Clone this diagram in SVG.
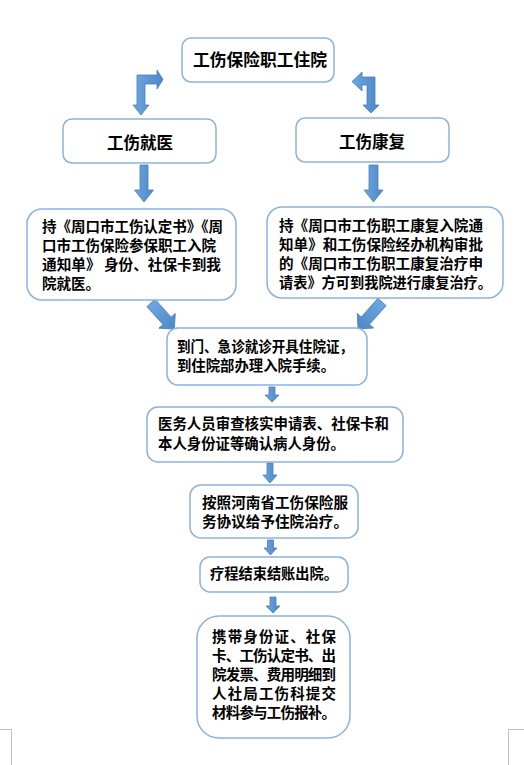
<svg xmlns="http://www.w3.org/2000/svg" width="524" height="765" viewBox="0 0 524 765">
<defs>
<linearGradient id="ag" x1="0" y1="0" x2="1" y2="0">
<stop offset="0" stop-color="#6FA6DD"/>
<stop offset="1" stop-color="#4C88C8"/>
</linearGradient>
<style>
.box{fill:#fff;stroke:#8AB2E0;stroke-width:1.5}
.arr{fill:url(#ag);stroke:#4A7EBB;stroke-width:0.8;stroke-linejoin:miter}
.t{font-family:"Noto Sans CJK SC","Noto Sans",sans-serif;font-weight:700;fill:#000}
.big{font-size:16.5px}
.sm{font-size:14.5px}
.mark{fill:none;stroke:#BFBFBF;stroke-width:1}
</style>
</defs>
<rect width="524" height="765" fill="#fff"/>

<g id="connectors">
<polygon class="arr" points="137,75 157,75 157,70 163,79.5 157,89 157,84 145,84 145,105 149,105 141,115 133,105 137,105"/>
<polygon class="arr" points="375,77 362,77 362,72 352,81.5 362,91 362,85 367,85 367,105 363,105 371,113 379,105 375,105"/>
<path class="arr" transform="translate(144,165)" d="M-4,0 H4 V25 H9.5 L0,37 L-9.5,25 H-4 Z"/>
<path class="arr" transform="translate(373.5,165)" d="M-4.5,0 H4.5 V25 H9.5 L0,37 L-9.5,25 H-4.5 Z"/>
<path class="arr" transform="translate(151,303) rotate(48)" d="M0,-5.5 H24 V-11 L35,0 L24,11 V5.5 H0 Z"/>
<path class="arr" transform="translate(382,302) rotate(131.6)" d="M0,-5.5 H25 V-11 L36,0 L25,11 V5.5 H0 Z"/>
<path class="arr" transform="translate(272,387)" d="M-3,0 H3 V8 H7 L0,15 L-7,8 H-3 Z"/>
<path class="arr" transform="translate(270,463)" d="M-3,0 H3 V12 H7 L0,20 L-7,12 H-3 Z"/>
<path class="arr" transform="translate(270.5,540)" d="M-3,0 H3 V8 H6.5 L0,15 L-6.5,8 H-3 Z"/>
<path class="arr" transform="translate(273,597)" d="M-3,0 H3 V9 H7 L0,16 L-7,9 H-3 Z"/>
</g>

<g id="n1">
<rect class="box" x="182" y="38" width="152" height="44" rx="9"/>
<text class="t big" x="193" y="66" textLength="134" lengthAdjust="spacingAndGlyphs">工伤保险职工住院</text>
</g>
<g id="n2">
<rect class="box" x="63" y="119" width="153" height="44" rx="9"/>
<text class="t big" x="107" y="149">工伤就医</text>
</g>
<g id="n3">
<rect class="box" x="296" y="118" width="153" height="44" rx="9"/>
<text class="t big" x="339" y="148">工伤康复</text>
</g>
<g id="n4">
<rect class="box" x="27" y="209" width="209" height="91" rx="15"/>
<text class="t sm" x="42" y="232" textLength="181" lengthAdjust="spacingAndGlyphs">持《周口市工伤认定书》《周</text>
<text class="t sm" x="42" y="251" textLength="174" lengthAdjust="spacingAndGlyphs">口市工伤保险参保职工入院</text>
<text class="t sm" x="42" y="270" textLength="179" lengthAdjust="spacingAndGlyphs">通知单》 身份、社保卡到我</text>
<text class="t sm" x="42" y="289">院就医。</text>
</g>
<g id="n5">
<rect class="box" x="267" y="207" width="236" height="91" rx="15"/>
<text class="t sm" x="279" y="231" textLength="204" lengthAdjust="spacingAndGlyphs">持《周口市工伤职工康复入院通</text>
<text class="t sm" x="279" y="250" textLength="204" lengthAdjust="spacingAndGlyphs">知单》和工伤保险经办机构审批</text>
<text class="t sm" x="279" y="269" textLength="204" lengthAdjust="spacingAndGlyphs">的《周口市工伤职工康复治疗申</text>
<text class="t sm" x="279" y="288" textLength="213" lengthAdjust="spacingAndGlyphs">请表》方可到我院进行康复治疗。</text>
</g>
<g id="n6">
<rect class="box" x="167" y="328" width="200" height="57" rx="11"/>
<text class="t sm" x="177" y="352" textLength="176" lengthAdjust="spacingAndGlyphs">到门、急诊就诊开具住院证，</text>
<text class="t sm" x="177" y="371" textLength="158" lengthAdjust="spacingAndGlyphs">到住院部办理入院手续。</text>
</g>
<g id="n7">
<rect class="box" x="147" y="407" width="256" height="55" rx="11"/>
<text class="t sm" x="158" y="428.5" textLength="231" lengthAdjust="spacingAndGlyphs">医务人员审查核实申请表、社保卡和</text>
<text class="t sm" x="158" y="448.5" textLength="187" lengthAdjust="spacingAndGlyphs">本人身份证等确认病人身份。</text>
</g>
<g id="n8">
<rect class="box" x="190" y="485" width="168" height="53" rx="11"/>
<text class="t sm" x="202" y="507.5" textLength="146" lengthAdjust="spacingAndGlyphs">按照河南省工伤保险服</text>
<text class="t sm" x="202" y="526.5" textLength="146" lengthAdjust="spacingAndGlyphs">务协议给予住院治疗。</text>
</g>
<g id="n9">
<rect class="box" x="200" y="557" width="148" height="35" rx="10"/>
<text class="t sm" x="210" y="578.5" textLength="128" lengthAdjust="spacingAndGlyphs">疗程结束结账出院。</text>
</g>
<g id="n10">
<rect class="box" x="197" y="616" width="153" height="122" rx="22"/>
<text class="t sm" x="212" y="641.5" textLength="124" lengthAdjust="spacing">携带身份证、社保</text>
<text class="t sm" x="212" y="660.5" textLength="124" lengthAdjust="spacing">卡、工伤认定书、出</text>
<text class="t sm" x="212" y="679.5" textLength="124" lengthAdjust="spacing">院发票、费用明细到</text>
<text class="t sm" x="212" y="698.5" textLength="124" lengthAdjust="spacing">人社局工伤科提交</text>
<text class="t sm" x="212" y="717.5" textLength="124" lengthAdjust="spacing">材料参与工伤报补。</text>
</g>

<path class="mark" d="M0,729.5 H11.5 V765"/>
<path class="mark" d="M508.5,765 V729.5 H524"/>
</svg>
